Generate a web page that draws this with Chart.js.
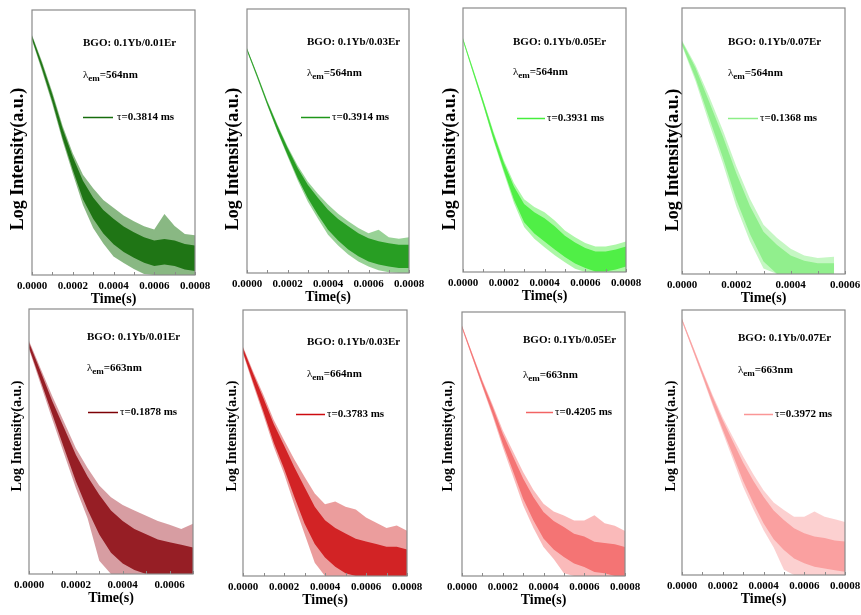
<!DOCTYPE html>
<html><head><meta charset="utf-8">
<script src="https://cdn.jsdelivr.net/npm/chart.js@4/dist/chart.umd.min.js"></script>
<style>
html,body{margin:0;padding:0;background:#fff;width:861px;height:615px;overflow:hidden;position:relative}
canvas{position:absolute}
</style></head><body>
<script>
// ---------- DATA (y = % of the log-intensity axis height) ----------
const time8 = [0,0.00005,0.0001,0.00015,0.0002,0.00025,0.0003,0.00035,0.0004,0.00045,0.0005,0.00055,0.0006,0.00065,0.0007,0.00075,0.0008];
const time7 = [0,0.00005,0.0001,0.00015,0.0002,0.00025,0.0003,0.00035,0.0004,0.00045,0.0005,0.00055,0.0006,0.00065,0.0007];
const time6 = [0,0.00005,0.0001,0.00015,0.0002,0.00025,0.0003,0.00035,0.0004,0.00045,0.0005,0.00056];

const samples = ['BGO: 0.1Yb/0.01Er','BGO: 0.1Yb/0.03Er','BGO: 0.1Yb/0.05Er','BGO: 0.1Yb/0.07Er',
                 'BGO: 0.1Yb/0.01Er','BGO: 0.1Yb/0.03Er','BGO: 0.1Yb/0.05Er','BGO: 0.1Yb/0.07Er'];
const emissions = ['564nm','564nm','564nm','564nm','663nm','664nm','663nm','663nm'];
const lifetimes = ['0.3814 ms','0.3914 ms','0.3931 ms','0.1368 ms','0.1878 ms','0.3783 ms','0.4205 ms','0.3972 ms'];
const xMaxes = [0.0008,0.0008,0.0008,0.0006,0.0007,0.0008,0.0008,0.0008];

const p1OuterHi = [90.6,80.4,69.0,56.3,45.9,37.8,32.7,28.3,25.4,22.5,20.3,18.4,17.2,23.0,18.5,15.5,15.0];
const p1CoreHi  = [90.2,79.6,68.0,55.3,44.6,35.6,29.2,24.5,21.2,18.3,16.1,14.2,13.0,13.6,13.0,11.7,11.1];
const p1CoreLo  = [89.0,77.6,65.4,51.7,39.6,28.6,21.2,15.7,11.6,8.7,6.5,4.6,3.4,4.0,3.4,2.1,1.5];
const p1OuterLo = [88.6,76.8,64.4,50.7,38.3,26.4,17.7,11.9,7.0,4.5,2.3,0.4,0,0,0,0,0];

const p2OuterHi = [85.1,75.5,65.3,56.3,48.0,40.7,34.7,30.0,25.9,22.4,19.6,17.0,15.1,16.4,13.5,13.0,13.5];
const p2CoreHi  = [85.0,75.2,65.0,55.9,47.4,39.8,33.4,28.5,24.0,20.5,17.7,15.1,13.2,12.0,11.3,10.7,10.7];
const p2CoreLo  = [84.2,74.2,63.8,53.9,44.8,36.0,28.4,22.1,16.4,12.3,8.9,6.3,4.4,3.2,2.5,1.9,1.9];
const p2OuterLo = [84.1,73.9,63.5,53.5,44.2,35.1,27.1,20.6,14.5,10.4,7.0,4.4,2.5,1.0,0.3,0,0];

const p3OuterHi = [88.6,76.9,65.1,53.1,42.3,33.7,27.6,24.6,22.6,19.5,15.7,13.2,11.0,9.7,9.7,10.4,11.6];
const p3CoreHi  = [88.4,76.6,64.8,52.5,41.5,32.4,25.8,22.6,20.4,17.3,13.7,11.2,9.1,7.8,7.8,8.5,9.7];
const p3CoreLo  = [87.6,75.4,63.2,50.3,38.5,27.4,18.8,14.6,11.6,8.5,5.7,3.2,1.5,0.2,0.2,0.9,2.1];
const p3OuterLo = [87.4,75.1,62.9,49.7,37.7,26.1,17.0,12.6,9.4,6.3,3.7,1.2,0,0,0,0,0];

const p4OuterHi = [87.8,78.5,66.7,54.1,40.4,28.3,18.5,13.5,9.5,7.0,6.0,6.5];
const p4CoreHi  = [87.4,77.4,64.8,51.9,37.9,25.6,15.9,10.9,7.0,5.0,4.0,4.0];
const p4CoreLo  = [86.2,73.6,58.6,43.9,27.9,15.0,4.7,0,0,0,0,0];
const p4OuterLo = [85.8,72.5,56.7,41.7,25.4,12.3,2.1,0,0,0,0,0];

const p5OuterHi = [88.0,77.5,67.0,57.3,47.5,40.0,33.4,29.0,26.0,24.0,22.0,20.0,18.6,17.0,19.0];
const p5CoreHi  = [87.4,76.3,65.1,55.1,45.0,36.8,29.9,24.0,20.0,17.0,15.0,13.0,12.0,11.0,10.0];
const p5CoreLo  = [85.4,72.7,60.1,47.5,35.0,24.2,14.9,8.0,4.0,1.5,0,0,0,0,0];
const p5OuterLo = [84.8,71.5,58.2,45.3,32.5,21.0,5.0,0,0,0,0,0,0,0,0];

const p6OuterHi = [86.2,76.8,68.0,58.6,51.1,43.9,37.3,31.0,27.0,28.0,26.0,25.0,22.0,20.0,18.0,19.0,17.0];
const p6CoreHi  = [85.7,75.9,66.7,57.1,49.2,41.0,33.5,26.0,21.0,18.0,16.0,14.0,13.0,12.0,11.0,11.0,10.0];
const p6CoreLo  = [84.1,72.7,61.7,50.1,40.4,29.8,19.7,12.0,7.0,3.5,1.0,0,0,0,0,0,0];
const p6OuterLo = [83.6,71.8,60.4,48.6,38.5,26.9,15.9,5.0,0,0,0,0,0,0,0,0,0];

const p7OuterHi = [94.9,84.5,74.2,65.0,55.2,47.3,39.4,32.7,27.4,24.4,22.9,21.0,21.0,23.0,20.0,19.0,17.0];
const p7CoreHi  = [94.7,84.2,73.7,64.1,53.9,45.4,36.9,29.9,24.2,20.8,18.6,16.0,15.0,13.0,12.5,12.0,11.0];
const p7CoreLo  = [93.9,83.0,72.1,61.5,50.1,39.8,29.3,21.1,14.2,10.0,7.2,4.7,3.4,1.5,1.0,0,0];
const p7OuterLo = [93.7,82.7,71.6,60.6,48.8,37.9,26.8,18.3,11.0,6.4,1.0,0,0,0,0,0,0];

const p8OuterHi = [96.8,87.1,77.4,68.0,59.4,52.0,44.7,38.0,32.0,27.4,24.5,22.0,22.0,24.0,22.0,21.0,20.0];
const p8CoreHi  = [96.6,86.8,76.9,67.3,58.4,50.4,42.5,35.6,29.5,24.3,20.8,17.6,15.8,14.5,14.0,13.0,12.6];
const p8CoreLo  = [95.8,85.6,75.3,64.7,54.8,45.2,35.5,27.2,19.5,13.5,9.4,6.2,4.4,3.1,2.5,1.8,1.2];
const p8OuterLo = [95.6,85.3,74.8,64.0,53.8,43.6,33.3,24.8,17.0,10.4,2.0,0,0,0,0,0,0];

// ---------- STYLE / LAYOUT ----------
const coreColors  = ['rgb(22,108,12)','rgb(30,150,25)','rgb(70,238,60)','rgb(140,238,135)',
                     'rgb(125,0,5)','rgb(205,10,15)','rgb(242,100,100)','rgb(250,150,150)'];
const outerColors = ['rgba(40,125,30,0.55)','rgba(50,165,45,0.5)','rgba(90,240,80,0.5)','rgba(150,240,145,0.55)',
                     'rgba(175,60,70,0.5)','rgba(215,60,60,0.5)','rgba(245,130,130,0.55)','rgba(250,170,170,0.55)'];
const FONT = "'Liberation Serif','Times New Roman',serif";

// chart area boxes and annotation positions in page pixels
const LAYOUT = [
 {L:32, T:10, R:195,B:275, yt:[18,159,18],  sx:83,  sy:43,  ly:75,  lg:[83,113,117],  tx:117},
 {L:247,T:9,  R:409,B:273, yt:[233,159,18], sx:307, sy:42,  ly:73,  lg:[301,330,117], tx:332},
 {L:463,T:8,  R:626,B:272, yt:[450,159,18], sx:513, sy:42,  ly:72,  lg:[517,545,118], tx:547},
 {L:682,T:8,  R:845,B:274, yt:[673,160,18], sx:728, sy:42,  ly:73,  lg:[728,758,118], tx:760},
 {L:29, T:309,R:193,B:574, yt:[17,436,14],  sx:87,  sy:337, ly:368, lg:[88,118,412],  tx:120},
 {L:243,T:310,R:407,B:576, yt:[232,436,14], sx:307, sy:342, ly:374, lg:[296,325,414], tx:327},
 {L:462,T:312,R:625,B:576, yt:[448,436,14], sx:523, sy:340, ly:375, lg:[526,553,412], tx:555},
 {L:682,T:310,R:845,B:575, yt:[671,436,14], sx:738, sy:338, ly:370, lg:[744,773,414], tx:775}
];

const SERIES = [
 [time8,p1OuterHi,p1CoreHi,p1CoreLo,p1OuterLo],
 [time8,p2OuterHi,p2CoreHi,p2CoreLo,p2OuterLo],
 [time8,p3OuterHi,p3CoreHi,p3CoreLo,p3OuterLo],
 [time6,p4OuterHi,p4CoreHi,p4CoreLo,p4OuterLo],
 [time7,p5OuterHi,p5CoreHi,p5CoreLo,p5OuterLo],
 [time8,p6OuterHi,p6CoreHi,p6CoreLo,p6OuterLo],
 [time8,p7OuterHi,p7CoreHi,p7CoreLo,p7OuterLo],
 [time8,p8OuterHi,p8CoreHi,p8CoreLo,p8OuterLo]
];

const pts = (ts, vs) => vs.map((v, k) => ({x: ts[k], y: v}));

function makePanel(i) {
  const lay = LAYOUT[i];
  const cx = lay.L - 40, cy = lay.T - 10;
  const w = lay.R - lay.L + 80, h = lay.B - lay.T + 55;
  const cv = document.createElement('canvas');
  cv.width = w; cv.height = h;
  cv.style.left = cx + 'px'; cv.style.top = cy + 'px';
  cv.style.width = w + 'px'; cv.style.height = h + 'px';
  document.body.appendChild(cv);
  const [ts, oHi, cHi, cLo, oLo] = SERIES[i];
  const base = {pointRadius:0, borderWidth:0, borderColor:'transparent', tension:0};

  const framePlugin = {
    id: 'frame' + i,
    afterDatasetsDraw(chart) {
      const ctx = chart.ctx, a = chart.chartArea, xs = chart.scales.x;
      ctx.save();
      ctx.strokeStyle = '#8a8a8a'; ctx.lineWidth = 1.2;
      ctx.strokeRect(a.left, a.top, a.right - a.left, a.bottom - a.top);
      // small inward tick marks
      ctx.lineWidth = 1;
      for (let v = 0; v <= xMaxes[i] + 1e-9; v += 0.0001) {
        const px = Math.round(xs.getPixelForValue(v)) + 0.5;
        ctx.beginPath(); ctx.moveTo(px, a.bottom); ctx.lineTo(px, a.bottom - 3); ctx.stroke();
      }
      // y-axis title
      ctx.fillStyle = '#000';
      ctx.font = 'bold ' + lay.yt[2] + 'px ' + FONT;
      ctx.translate(lay.yt[0] - cx, lay.yt[1] - cy);
      ctx.rotate(-Math.PI / 2);
      ctx.textAlign = 'center'; ctx.textBaseline = 'middle';
      ctx.fillText('Log Intensity(a.u.)', 0, 0);
      ctx.restore();

      // annotations
      ctx.save();
      ctx.fillStyle = '#000'; ctx.textBaseline = 'middle'; ctx.textAlign = 'left';
      ctx.font = 'bold 11px ' + FONT;
      ctx.fillText(samples[i], lay.sx - cx, lay.sy - cy);
      // lambda_em line
      let x = lay.sx - cx; const y = lay.ly - cy;
      ctx.font = '11px ' + FONT;
      ctx.fillText('λ', x, y);
      x += ctx.measureText('λ').width;
      ctx.font = 'bold 9px ' + FONT;
      ctx.fillText('em', x, y + 4);
      x += ctx.measureText('em').width;
      ctx.font = 'bold 11px ' + FONT;
      ctx.fillText('=' + emissions[i], x, y);
      // legend
      ctx.strokeStyle = coreColors[i]; ctx.lineWidth = 1.5;
      ctx.beginPath();
      ctx.moveTo(lay.lg[0] - cx, lay.lg[2] - cy + 0.5);
      ctx.lineTo(lay.lg[1] - cx, lay.lg[2] - cy + 0.5);
      ctx.stroke();
      let tx = lay.tx - cx;
      ctx.font = '11px ' + FONT;
      ctx.fillText('τ', tx, lay.lg[2] - cy);
      tx += ctx.measureText('τ').width;
      ctx.font = 'bold 11px ' + FONT;
      ctx.fillText('=' + lifetimes[i], tx, lay.lg[2] - cy);
      ctx.restore();
    }
  };

  new Chart(cv, {
    type: 'line',
    data: {datasets: [
      Object.assign({label:'outer-hi', data: pts(ts, oHi), fill:false}, base),
      Object.assign({label:'outer-lo', data: pts(ts, oLo), fill:'-1', backgroundColor: outerColors[i]}, base),
      Object.assign({label:'core-hi', data: pts(ts, cHi), fill:false}, base),
      Object.assign({label:'core-lo', data: pts(ts, cLo), fill:'-1', backgroundColor: coreColors[i]}, base)
    ]},
    options: {
      responsive: false, animation: false, devicePixelRatio: 1,
      layout: {padding: {left: 15, top: 10, right: 40, bottom: 10}},
      plugins: {legend: {display: false}, tooltip: {enabled: false}},
      scales: {
        x: {
          type: 'linear', min: 0, max: xMaxes[i],
          border: {display: false},
          grid: {display: false, drawTicks: false},
          ticks: {stepSize: 0.0002, includeBounds: false, autoSkip: false, maxRotation: 0, padding: 5,
                  color: '#000', font: {family: FONT, size: 11, weight: 'bold'},
                  callback: v => Number(v).toFixed(4)},
          title: {display: true, text: 'Time(s)', color: '#000', padding: {top: 0, bottom: 2},
                  font: {family: FONT, size: 14, weight: 'bold'}},
          afterFit: s => { s.height = 35; }
        },
        y: {
          min: 0, max: 100,
          border: {display: false},
          grid: {display: false, drawTicks: false},
          ticks: {display: false},
          afterFit: s => { s.width = 25; }
        }
      }
    },
    plugins: [framePlugin]
  });
}
for (let i = 0; i < 8; i++) makePanel(i);
</script>
</body></html>
